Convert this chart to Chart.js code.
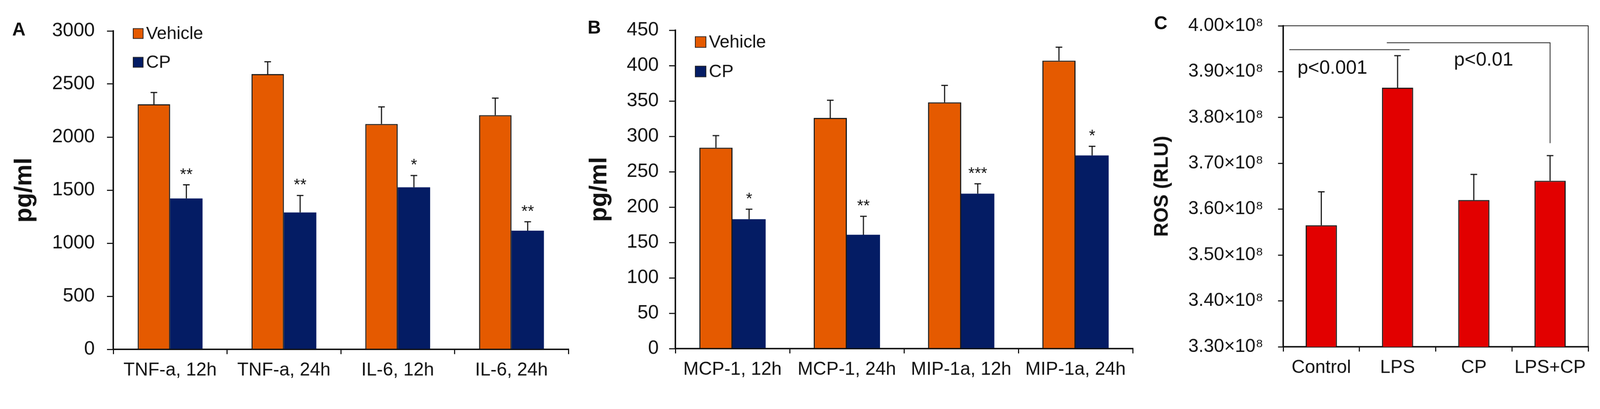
<!DOCTYPE html>
<html>
<head>
<meta charset="utf-8">
<script src="https://cdn.jsdelivr.net/npm/chart.js@4.4.1/dist/chart.umd.min.js"></script>
<style>
  html, body { margin: 0; padding: 0; background: #fff; overflow: hidden; }
  #page { position: absolute; left: 0; top: 0; width: 4338px; height: 1048px; transform-origin: 0 0;
          font-family: "Liberation Sans", Arial, sans-serif; }
  .panel { position: absolute; top: 0; height: 1048px; }
  .tag { position: absolute; font-weight: bold; font-size: 50px; line-height: 1; color: #111; }
</style>
</head>
<body>
<div id="page">
  <div class="panel" style="left:0;width:1570px"><canvas id="chartA"></canvas></div>
  <div class="panel" style="left:1570px;width:1530px"><canvas id="chartB"></canvas></div>
  <div class="panel" style="left:3100px;width:1238px"><canvas id="chartC"></canvas></div>
  <div class="tag" style="left:33px;top:54px">A</div>
  <div class="tag" style="left:1593px;top:49px">B</div>
  <div class="tag" style="left:3129px;top:37px">C</div>
</div>
<script>
// panel A
const catsA = ["TNF-a, 12h", "TNF-a, 24h", "IL-6, 12h", "IL-6, 24h"];
const vehicleA = [2309, 2594, 2123, 2207];
const vehicleErrA = [111, 116, 162, 160];
const cpA = [1422, 1290, 1527, 1118];
const cpErrA = [128, 160, 111, 84];
const starsA = ["**", "**", "*", "**"];

// panel B
const catsB = ["MCP-1, 12h", "MCP-1, 24h", "MIP-1a, 12h", "MIP-1a, 24h"];
const vehicleB = [284, 326, 348, 407];
const vehicleErrB = [17, 25, 24, 19];
const cpB = [183, 161, 219, 273];
const cpErrB = [14, 26, 14, 13];
const starsB = ["*", "**", "***", "*"];

// panel C
const catsC = ["Control", "LPS", "CP", "LPS+CP"];
const rosC = [3.565e8, 3.865e8, 3.620e8, 3.662e8];
const rosErrC = [0.073e8, 0.070e8, 0.056e8, 0.055e8];

const ORANGE = "rgb(229, 90, 0)";
const NAVY = "rgb(4, 28, 100)";
const RED = "rgb(226, 0, 0)";
const INK = "#111";
const FONT = "'Liberation Sans', Arial, sans-serif";

// the page is laid out at 4338x1048, fit it to whatever the window really is
const fit = Math.min(window.innerWidth / 4338, window.innerHeight / 1048);
document.getElementById("page").style.transform = "scale(" + fit + ")";

// error bars (up only) + significance stars
const errorBars = {
   id: "errorBars",
   afterDatasetsDraw(chart) {
      const ctx = chart.ctx;
      const y = chart.scales.y;
      chart.data.datasets.forEach((ds, i) => {
         if (!ds.errors) return;
         chart.getDatasetMeta(i).data.forEach((bar, j) => {
            const top = y.getPixelForValue(ds.data[j] + ds.errors[j]);
            ctx.save();
            ctx.strokeStyle = INK;
            ctx.lineWidth = 3;
            ctx.beginPath();
            ctx.moveTo(bar.x, bar.y);
            ctx.lineTo(bar.x, top);
            ctx.moveTo(bar.x - 9, top);
            ctx.lineTo(bar.x + 9, top);
            ctx.stroke();
            if (ds.stars) {
               ctx.fillStyle = INK;
               ctx.font = "44px " + FONT;
               ctx.textAlign = "center";
               ctx.textBaseline = "alphabetic";
               ctx.fillText(ds.stars[j], bar.x, top - 14);
            }
            ctx.restore();
         });
      });
   },
};

// legend drawn inside the plot, stacked
const boxLegend = {
   id: "boxLegend",
   afterDraw(chart, args, opts) {
      if (!opts.show) return;
      const ctx = chart.ctx;
      const a = chart.chartArea;
      chart.data.datasets.forEach((ds, i) => {
         const cy = a.top + opts.rows[i];
         const x = a.left + opts.dx;
         ctx.save();
         ctx.fillStyle = ds.backgroundColor;
         ctx.fillRect(x, cy - opts.size / 2, opts.size, opts.size);
         ctx.strokeStyle = "#222";
         ctx.lineWidth = 2;
         ctx.strokeRect(x, cy - opts.size / 2, opts.size, opts.size);
         ctx.fillStyle = INK;
         ctx.font = "48px " + FONT;
         ctx.textBaseline = "middle";
         ctx.fillText(ds.label, x + opts.size + 8, cy + 2);
         ctx.restore();
      });
   },
};

// frame + p-value brackets for panel C
const sigLines = {
   id: "sigLines",
   afterDraw(chart) {
      const ctx = chart.ctx;
      const a = chart.chartArea;
      const x = chart.scales.x, y = chart.scales.y;
      ctx.save();
      ctx.strokeStyle = INK;
      ctx.lineWidth = 2;
      ctx.beginPath();
      ctx.moveTo(a.left, a.top);
      ctx.lineTo(a.right, a.top);
      ctx.lineTo(a.right, a.bottom);
      ctx.stroke();
      ctx.beginPath();
      ctx.moveTo(x.getPixelForValue(-0.42), y.getPixelForValue(3.948e8));
      ctx.lineTo(x.getPixelForValue(1.157), y.getPixelForValue(3.948e8));
      ctx.moveTo(x.getPixelForValue(0.859), y.getPixelForValue(3.963e8));
      ctx.lineTo(x.getPixelForValue(3), y.getPixelForValue(3.963e8));
      ctx.lineTo(x.getPixelForValue(3), y.getPixelForValue(3.744e8));
      ctx.stroke();
      ctx.fillStyle = INK;
      ctx.font = "52px " + FONT;
      ctx.textAlign = "center";
      ctx.textBaseline = "middle";
      ctx.fillText("p<0.001", x.getPixelForValue(0.145), y.getPixelForValue(3.907e8));
      ctx.fillText("p<0.01", x.getPixelForValue(2.128), y.getPixelForValue(3.9245e8));
      ctx.restore();
   },
};

function makeChart(id, cfg) {
   return new Chart(document.getElementById(id), {
      type: "bar",
      data: { labels: cfg.labels, datasets: cfg.datasets },
      plugins: cfg.extra,
      options: {
         responsive: true,
         maintainAspectRatio: false,
         animation: false,
         categoryPercentage: cfg.catPct,
         barPercentage: 1,
         layout: { padding: { left: 0, right: cfg.padRight, top: cfg.padTop, bottom: 0 } },
         plugins: {
            legend: { display: false },
            tooltip: { enabled: false },
            boxLegend: cfg.legend || { show: false },
         },
         scales: {
            x: {
               afterFit: (s) => { s.height = cfg.xHeight; },
               grid: { offset: true, drawOnChartArea: false, tickLength: 13, color: INK, lineWidth: 3 },
               border: { display: true, color: INK, width: 4 },
               ticks: { color: INK, padding: 14, font: { family: FONT, size: 50 }, maxRotation: 0, autoSkip: false },
            },
            y: {
               min: cfg.min,
               max: cfg.max,
               afterFit: (s) => { s.width = cfg.yWidth; },
               grid: { drawOnChartArea: false, tickLength: cfg.yTick, color: INK, lineWidth: 3 },
               border: { display: true, color: INK, width: 4 },
               ticks: { stepSize: cfg.step, color: INK, padding: cfg.yPad, font: { family: FONT, size: cfg.yFont },
                        callback: cfg.fmt },
               title: { display: true, text: cfg.title, color: INK, padding: { top: cfg.titlePad, bottom: 0 },
                        font: { family: FONT, size: cfg.titleSize, weight: "bold" } },
            },
         },
      },
   });
}

function pairSets(veh, vehErr, cp, cpErr, stars) {
   return [
      { label: "Vehicle", data: veh, errors: vehErr, backgroundColor: ORANGE, borderColor: "#1a1a1a", borderWidth: 3 },
      { label: "CP", data: cp, errors: cpErr, stars: stars, backgroundColor: NAVY, borderColor: NAVY, borderWidth: 0 },
   ];
}

makeChart("chartA", {
   labels: catsA,
   datasets: pairSets(vehicleA, vehicleErrA, cpA, cpErrA, starsA),
   extra: [errorBars, boxLegend],
   catPct: 0.57, padRight: 29, padTop: 84, xHeight: 100, yWidth: 307,
   min: 0, max: 3000, step: 500, yTick: 17, yPad: 33, yFont: 52,
   title: "pg/ml", titleSize: 66, titlePad: 27,
   legend: { show: true, dx: 54, rows: [7, 85], size: 27 },
});

makeChart("chartB", {
   labels: catsB,
   datasets: pairSets(vehicleB, vehicleErrB, cpB, cpErrB, starsB),
   extra: [errorBars, boxLegend],
   catPct: 0.58, padRight: 29, padTop: 82, xHeight: 102, yWidth: 261,
   min: 0, max: 450, step: 50, yTick: 17, yPad: 28, yFont: 52,
   title: "pg/ml", titleSize: 66, titlePad: 16,
   legend: { show: true, dx: 54, rows: [32, 112], size: 29 },
});

makeChart("chartC", {
   labels: catsC,
   datasets: [{ label: "ROS", data: rosC, errors: rosErrC, backgroundColor: RED, borderColor: "#1a1a1a", borderWidth: 3 }],
   extra: [errorBars, sigLines],
   catPct: 0.41, padRight: 32, padTop: 60, xHeight: 107, yWidth: 379,
   min: 3.3e8, max: 4.0e8, step: 0.1e8, yTick: 14, yPad: 40, yFont: 50,
   fmt: (v) => (v / 1e8).toFixed(2) + "×10⁸",
   title: "ROS (RLU)", titleSize: 53, titlePad: 20,
});
</script>
</body>
</html>
